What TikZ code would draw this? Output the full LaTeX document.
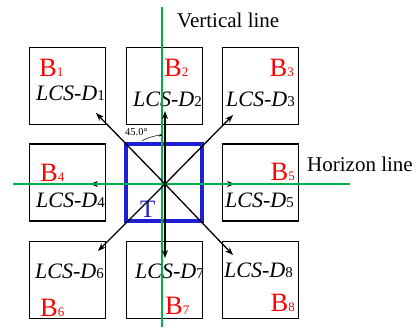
\documentclass[tikz,border=0pt]{standalone}
\usepackage{fontspec}
\setmainfont{Liberation Serif}
\usetikzlibrary{arrows.meta}
\definecolor{lgreen}{RGB}{0,176,80}
\definecolor{tblue}{RGB}{30,30,210}
\newcommand{\Blab}[1]{{\fontsize{26.5}{26.5}\selectfont B}{\fontsize{13}{13}\selectfont #1}}
\newcommand{\Lcs}[1]{{\fontsize{22}{22}\selectfont\itshape LCS-D}{\fontsize{15}{15}\selectfont #1}}
\begin{document}
\begin{tikzpicture}[x=1pt,y=-1pt,
 cell/.style={draw=black,line width=1.8pt,minimum width=76pt,minimum height=77pt,inner sep=0pt},
 blab/.style={text=red,inner sep=0pt},
 llab/.style={inner sep=0pt},
 guide/.style={draw=lgreen,line width=1.4pt},
 arr/.style={draw=black,line width=1.3pt,-{Stealth[length=8pt,width=6pt]}},
 angarr/.style={draw=black,line width=0.5pt,-{Stealth[length=3pt,width=2.5pt]}},
 ttl/.style={inner sep=0pt,font=\fontsize{21}{21}\selectfont}]
\useasboundingbox (0,0) rectangle (420,327);
% boxes
\node[cell] (b1) at (67.5,86) {};
\node[cell] (b2) at (164.5,86) {};
\node[cell] (b3) at (260.5,86) {};
\node[cell] (b4) at (67.5,182.5) {};
\node[cell] (b5) at (260.5,182.5) {};
\node[cell] (b6) at (67.5,280) {};
\node[cell] (b7) at (164.5,280) {};
\node[cell] (b8) at (260.5,280) {};
% target square
\node[draw=tblue,line width=3.8pt,minimum width=76pt,minimum height=77pt,inner sep=0pt] (t) at (164,182.5) {};
\node[inner sep=0pt,anchor=base west,text=tblue,font=\fontsize{25}{25}\selectfont] (tl) at (140,217) {T};
% labels
\node[blab,anchor=base west] (l1) at (39,76) {\Blab{1}};
\node[llab,anchor=base west] (d1) at (36,100) {\Lcs{1}};
\node[blab,anchor=base west] (l2) at (164,76) {\Blab{2}};
\node[llab,anchor=base west] (d2) at (133,106) {\Lcs{2}};
\node[blab,anchor=base east] (l3) at (294,76) {\Blab{3}};
\node[llab,anchor=base east] (d3) at (295,106) {\Lcs{3}};
\node[blab,anchor=base west] (l4) at (40,181) {\Blab{4}};
\node[llab,anchor=base west] (d4) at (36,207) {\Lcs{4}};
\node[blab,anchor=base east] (l5) at (295,180) {\Blab{5}};
\node[llab,anchor=base east] (d5) at (294,207) {\Lcs{5}};
\node[llab,anchor=base west] (d6) at (35,278) {\Lcs{6}};
\node[blab,anchor=base west] (l6) at (40,316) {\Blab{6}};
\node[llab,anchor=base west] (d7) at (135,278) {\Lcs{7}};
\node[blab,anchor=base west] (l7) at (165,314) {\Blab{7}};
\node[llab,anchor=base east] (d8) at (293,277) {\Lcs{8}};
\node[blab,anchor=base east] (l8) at (295,311) {\Blab{8}};
% titles
\node[ttl,anchor=base west] (vt) at (177,27) {Vertical line};
\node[ttl,anchor=base west] (ht) at (307,171) {Horizon line};
% coordinates
\coordinate (c) at (165,184);
\coordinate (t1) at (96,113);
\coordinate (t2) at (165,111);
\coordinate (t3) at (233,115);
\coordinate (t4) at (90,184);
\coordinate (t5) at (235,184);
\coordinate (t6) at (98,251);
\coordinate (t7) at (165,258);
\coordinate (t8) at (233,255);
\coordinate (vtop) at (162,7);
\coordinate (vbot) at (162,327);
\coordinate (hl) at (13,184);
\coordinate (hr) at (350,184);
% horizontal arrows (under green line)
\draw[arr] (c) -- (t4);
\draw[arr] (c) -- (t5);
% green guide lines
\draw[guide] (vtop) -- (vbot);
\draw[guide] (hl) -- (hr);
% other arrows
\draw[arr] (c) -- (t1);
\draw[arr] (c) -- (t2);
\draw[arr] (c) -- (t3);
\draw[arr] (c) -- (t6);
\draw[arr] (c) -- (t7);
\draw[arr] (c) -- (t8);
% angle
\coordinate (a1) at (142,140.7);
\coordinate (a2) at (162.4,135.1);
\draw[angarr] (a1) .. controls (148.3,137.4) and (155.3,135.5) .. (a2);
\node[inner sep=0pt,anchor=base west,font=\fontsize{10.5}{10.5}\selectfont] (ang) at (125,135) {45.0°};
\end{tikzpicture}
\end{document}
